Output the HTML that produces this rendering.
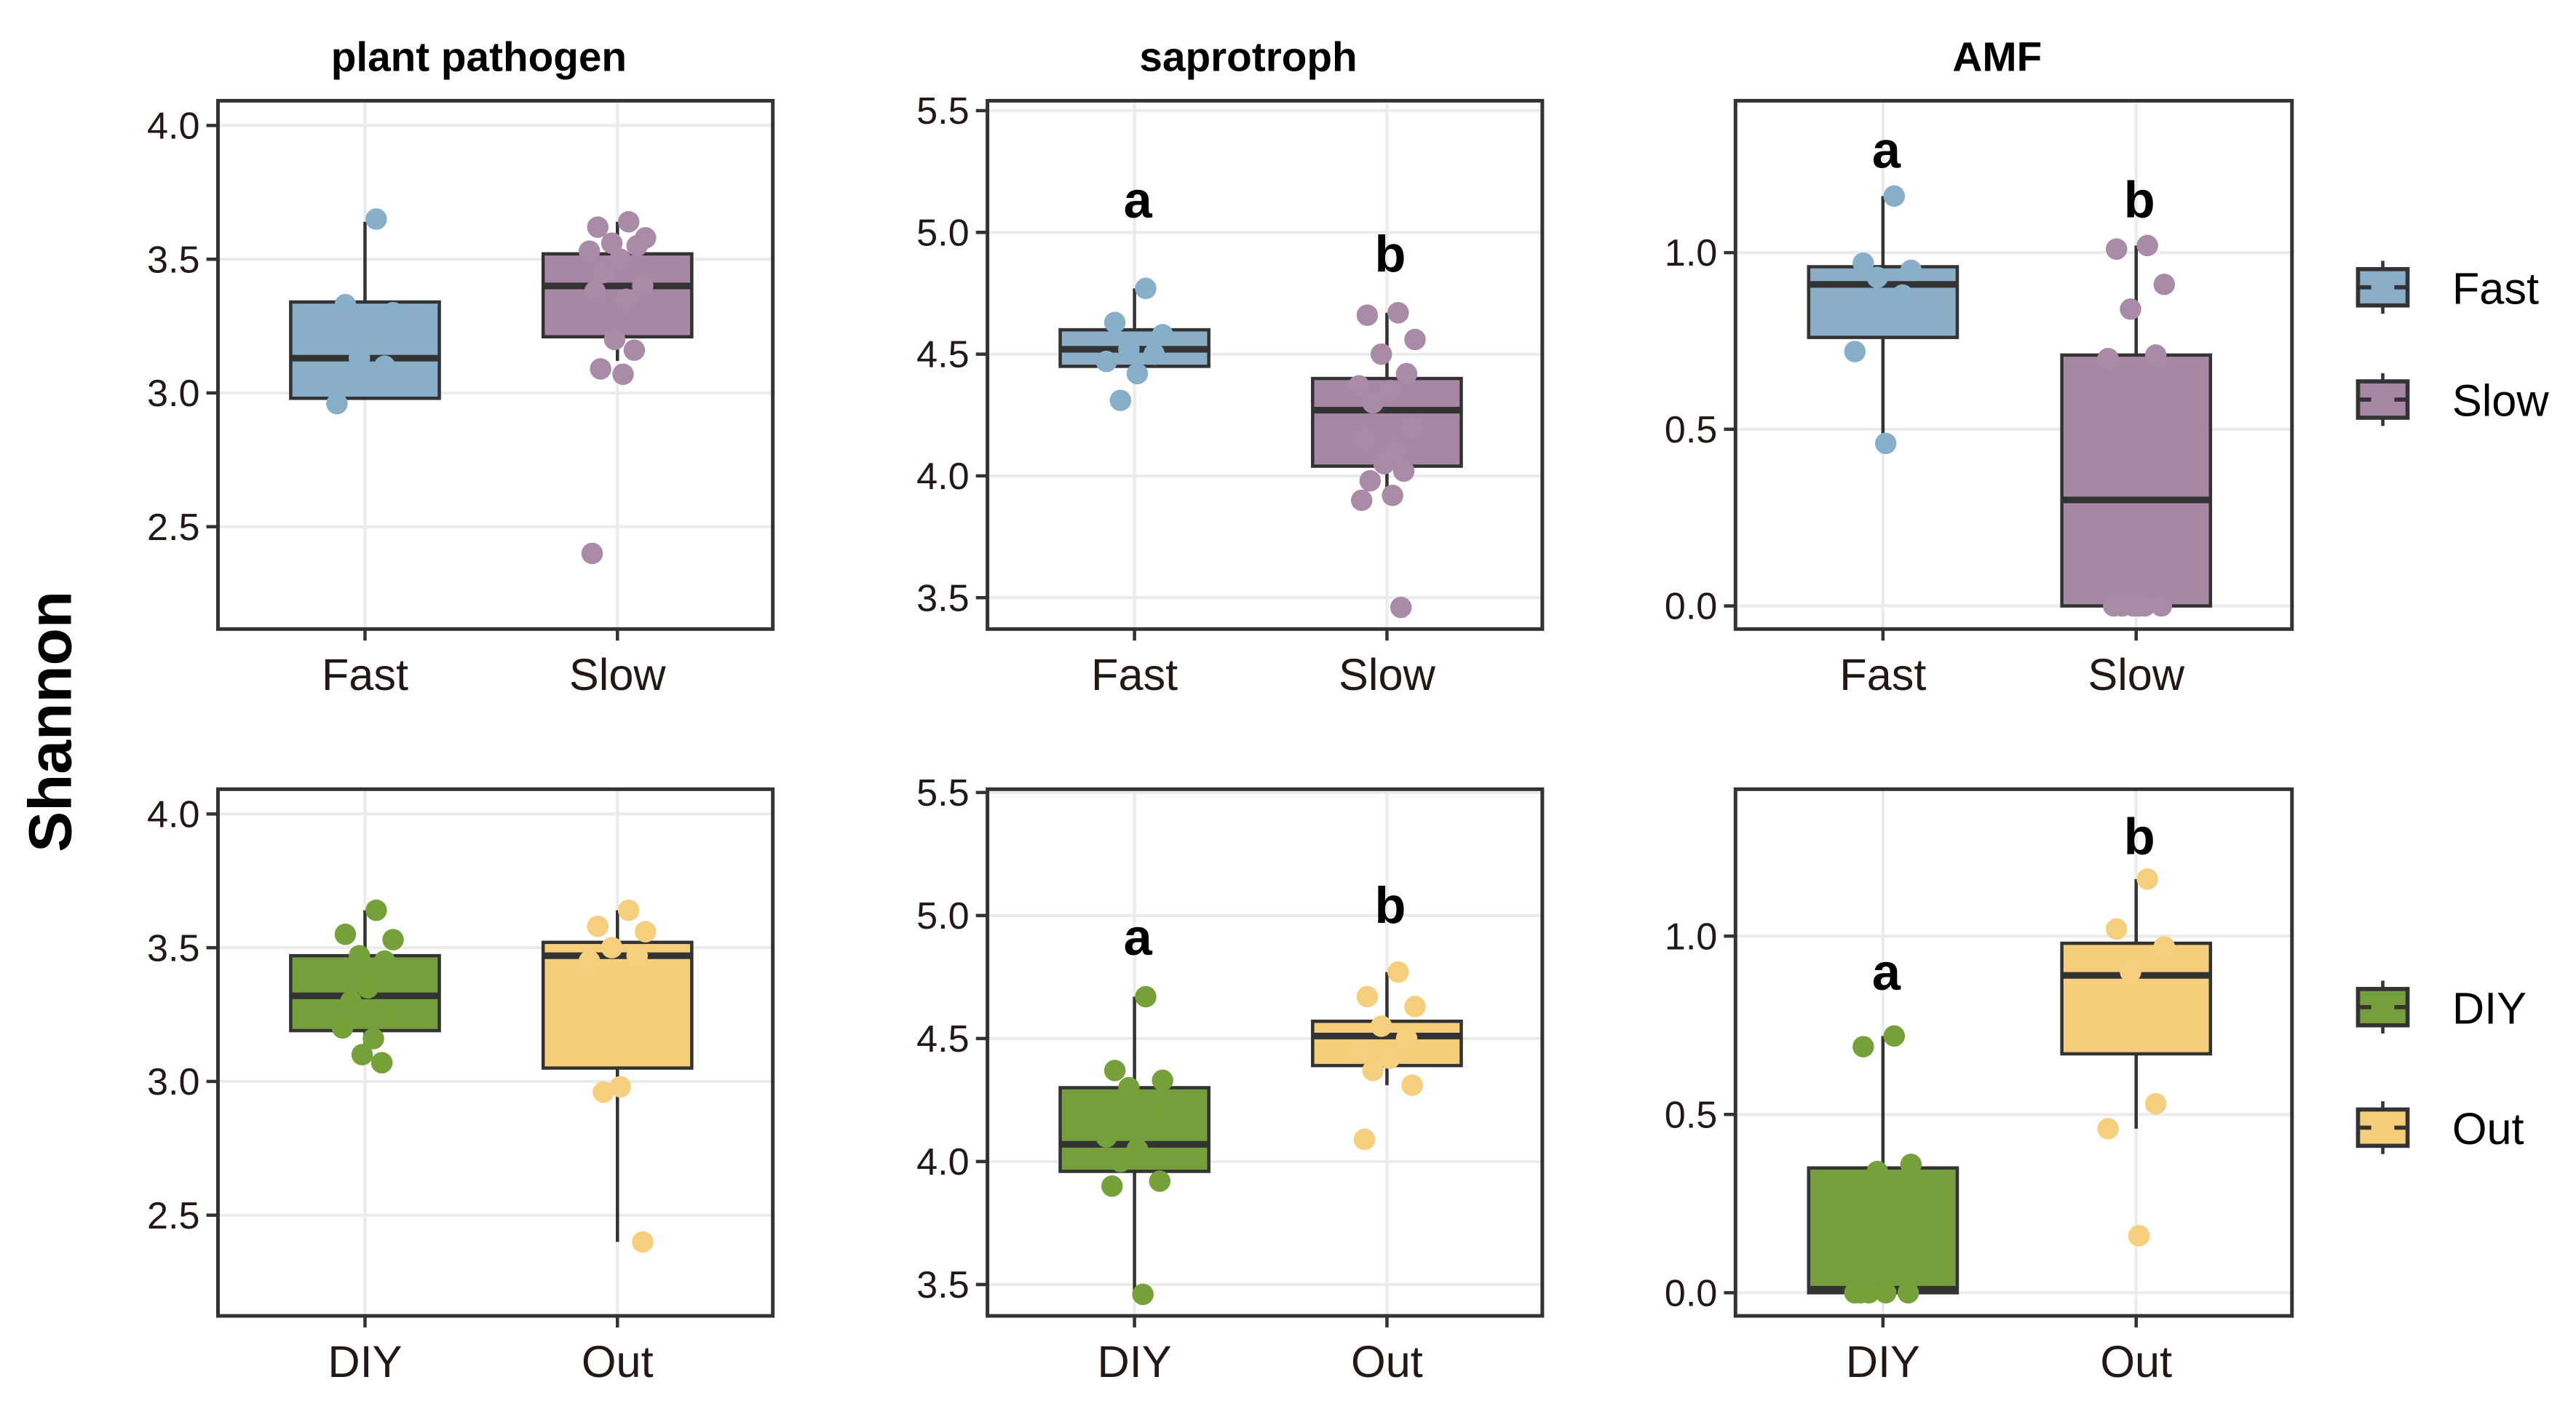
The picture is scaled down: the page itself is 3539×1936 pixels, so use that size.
<!DOCTYPE html>
<html><head><meta charset="utf-8"><style>
html,body{margin:0;padding:0;background:#fff;}
svg{display:block;}
</style></head><body>
<svg id="chart" xmlns="http://www.w3.org/2000/svg" width="3539" height="1936" viewBox="0 0 1560 853.4" font-family="'Liberation Sans', Arial, sans-serif">
<rect width="1560" height="853.4" fill="#fff"/>
<text transform="translate(43,437) rotate(-90)" text-anchor="middle" font-size="37" font-weight="bold">Shannon</text>
<g id="panels"></g>
<g id="legends"></g>
</svg>
<script>
// ---- data ----
const ppFastStats=[2.98,2.98,3.13,3.34,3.64];
const ppFastPts=[3.65,3.33,3.30,3.13,3.10,2.96];
const ppSlowStats=[3.12,3.21,3.40,3.52,3.64];
const ppSlowPts=[3.64,3.62,3.58,3.56,3.55,3.53,3.50,3.45,3.40,3.38,3.35,3.20,3.16,3.09,3.07,2.40];
const saFastStats=[4.43,4.45,4.52,4.60,4.77];
const saFastPts=[4.77,4.63,4.58,4.52,4.50,4.47,4.42,4.31];
const saSlowStats=[3.90,4.04,4.27,4.40,4.67];
const saSlowPts=[4.67,4.66,4.56,4.50,4.42,4.37,4.35,4.30,4.20,4.15,4.10,4.05,4.02,3.98,3.92,3.90,3.46];
const amFastStats=[0.46,0.76,0.91,0.96,1.16];
const amFastPts=[1.16,0.97,0.95,0.93,0.88,0.72,0.46];
const amSlowStats=[0.0,0.0,0.30,0.71,1.02];
const amSlowPts=[1.02,1.01,0.91,0.84,0.71,0.70,0,0,0,0,0,0];
const ppDiyStats=[3.07,3.19,3.32,3.47,3.64];
const ppDiyPts=[3.64,3.55,3.53,3.47,3.45,3.40,3.35,3.30,3.25,3.20,3.16,3.10,3.07];
const ppOutStats=[2.40,3.05,3.47,3.52,3.64];
const ppOutPts=[3.64,3.58,3.56,3.50,3.47,3.45,2.98,2.96,2.40];
const saDiyStats=[3.46,3.96,4.07,4.30,4.67];
const saDiyPts=[4.67,4.37,4.33,4.30,4.20,4.10,4.05,4.00,3.92,3.90,3.46];
const saOutStats=[4.31,4.39,4.51,4.57,4.77];
const saOutPts=[4.77,4.67,4.63,4.55,4.50,4.45,4.42,4.37,4.31,4.09];
const amDiyStats=[0.0,0.0,0.01,0.35,0.72];
const amDiyPts=[0.72,0.69,0.36,0.34,0.30,0,0,0,0,0];
const amOutStats=[0.46,0.67,0.89,0.98,1.16];
const amOutPts=[1.16,1.02,0.97,0.90,0.53,0.46,0.16];
const ppTicks=[2.5,3.0,3.5,4.0];
const saTicks=[3.5,4.0,4.5,5.0,5.5];
const amTicks=[0.0,0.5,1.0];
const rowACats=["Fast","Slow"];
const rowBCats=["DIY","Out"];
const titles=["plant pathogen","saprotroph","AMF"];
const sigLetters=["a","b"];
const saTopSigY=[5.06,4.84];
const amTopSigY=[1.24,1.10];
const saBotSigY=[4.84,4.97];
const amBotSigY=[0.85,1.23];

// ---- layout ----
const NS="http://www.w3.org/2000/svg";
function el(tag,attrs,parent){const e=document.createElementNS(NS,tag);for(const k in attrs)e.setAttribute(k,attrs[k]);parent.appendChild(e);return e;}
const colX=[[132,468],[598,934],[1051,1388]];
const rowY=[[61,381],[478,797]];
const axisCal={pp:[[4.0,76,493],[2.5,319,736]],sa:[[5.5,67,480],[3.5,362,778]],am:[[1.0,153,567],[0.0,367,783]]};
function yScale(type,row){const a=axisCal[type][0],b=axisCal[type][1];const ya=a[row+1],yb=b[row+1];return v=>ya+(v-a[0])*(yb-ya)/(b[0]-a[0]);}
const fills={Fast:"#8aadc8",Slow:"#a688a4",DIY:"#779e3c",Out:"#f5ce7b"};
const ptFills={Fast:"#87afca",Slow:"#a98aa7",DIY:"#76a03a",Out:"#f6cf7e"};
const panelDefs=[
 {type:"pp",row:0,col:0,cats:rowACats,ticks:ppTicks,stats:[ppFastStats,ppSlowStats],pts:[ppFastPts,ppSlowPts],title:titles[0],sig:null},
 {type:"sa",row:0,col:1,cats:rowACats,ticks:saTicks,stats:[saFastStats,saSlowStats],pts:[saFastPts,saSlowPts],title:titles[1],sig:saTopSigY},
 {type:"am",row:0,col:2,cats:rowACats,ticks:amTicks,stats:[amFastStats,amSlowStats],pts:[amFastPts,amSlowPts],title:titles[2],sig:amTopSigY},
 {type:"pp",row:1,col:0,cats:rowBCats,ticks:ppTicks,stats:[ppDiyStats,ppOutStats],pts:[ppDiyPts,ppOutPts],sig:null},
 {type:"sa",row:1,col:1,cats:rowBCats,ticks:saTicks,stats:[saDiyStats,saOutStats],pts:[saDiyPts,saOutPts],sig:saBotSigY},
 {type:"am",row:1,col:2,cats:rowBCats,ticks:amTicks,stats:[amDiyStats,amOutStats],pts:[amDiyPts,amOutPts],sig:amBotSigY}
];
const jit=[0.2,-0.35,0.5,-0.1,0.35,-0.5,0.05,-0.25,0.45,-0.4,0.15,-0.05,0.3,-0.3,0.1,-0.45,0.25];
const root=document.getElementById("panels");
panelDefs.forEach((p,pi)=>{
 const [x0,x1]=colX[p.col],[y0,y1]=rowY[p.row];
 const g=el("g",{},root);
 
 
 const y=yScale(p.type,p.row);
 const xs=i=>x0+(x1-x0)*(i===0?0.265:0.72);
 p.ticks.forEach(t=>{const l=el("line",{x1:x0,x2:x1,y1:y(t),y2:y(t),stroke:"#ebebeb","stroke-width":1.8},g);
  });
 p.cats.forEach((c,i)=>{const l=el("line",{x1:xs(i),x2:xs(i),y1:y0,y2:y1,stroke:"#ebebeb","stroke-width":1.8},g);
  });
 p.cats.forEach((c,i)=>{
  const s=p.stats[i],cx=xs(i),hw=45;
  const bg=el("g",{},g);
  
  
  el("line",{x1:cx,x2:cx,y1:y(s[0]),y2:y(s[1]),stroke:"#333","stroke-width":2},bg);
  el("line",{x1:cx,x2:cx,y1:y(s[3]),y2:y(s[4]),stroke:"#333","stroke-width":2},bg);
  el("rect",{x:cx-hw,y:y(s[3]),width:2*hw,height:Math.max(0.1,y(s[1])-y(s[3])),fill:fills[c],stroke:"#333","stroke-width":2},bg);
  el("line",{x1:cx-hw,x2:cx+hw,y1:y(s[2]),y2:y(s[2]),stroke:"#333","stroke-width":4},bg);
  p.pts[i].forEach((v,k)=>{
   const cc=el("circle",{cx:cx+jit[k%jit.length]*34,cy:y(v),r:6.5,fill:ptFills[c]},bg);
   
   
  });
  if(p.sig){
   const t=el("text",{x:cx+2,y:y(p.sig[i]),"text-anchor":"middle","font-size":31,"font-weight":"bold"},g);
   t.textContent=sigLetters[i];
   
   
  }
  const tk=el("line",{x1:cx,x2:cx,y1:y1,y2:y1+7,stroke:"#333","stroke-width":2},g);
  
  const lb=el("text",{x:cx,y:y1+37,"text-anchor":"middle","font-size":27,fill:"#231815"},g);
  lb.textContent=c;
  
 });
 p.ticks.forEach(t=>{
  const tk=el("line",{x1:x0-7,x2:x0,y1:y(t),y2:y(t),stroke:"#333","stroke-width":2},g);
  
  const lb=el("text",{x:x0-11,y:y(t)+8,"text-anchor":"end","font-size":23,fill:"#231815"},g);
  lb.textContent=t.toFixed(1);
  
 });
 const fr=el("rect",{x:x0,y:y0,width:x1-x0,height:y1-y0,fill:"none",stroke:"#333","stroke-width":2.2},g);
 
 if(p.title){
  const t=el("text",{x:(x0+x1)/2-10,y:43,"text-anchor":"middle","font-size":25,"font-weight":"bold"},g);
  t.textContent=p.title;
  
 }
});
const lroot=document.getElementById("legends");
[["Fast",174],["Slow",242],["DIY",610],["Out",683]].forEach(([c,cy])=>{
 const g=el("g",{},lroot);
 
 
 const lx=1443;
 el("line",{x1:lx,x2:lx,y1:cy-16,y2:cy+16,stroke:"#333","stroke-width":2},g);
 el("rect",{x:lx-15,y:cy-11,width:30,height:22,fill:fills[c],stroke:"#333","stroke-width":2.5},g);
 el("line",{x1:lx-15,x2:lx-7,y1:cy,y2:cy,stroke:"#333","stroke-width":2.5},g);
 el("line",{x1:lx+7,x2:lx+15,y1:cy,y2:cy,stroke:"#333","stroke-width":2.5},g);
 const t=el("text",{x:1485,y:cy+10,"font-size":27},g);
 t.textContent=c;
});
</script>
</body></html>
